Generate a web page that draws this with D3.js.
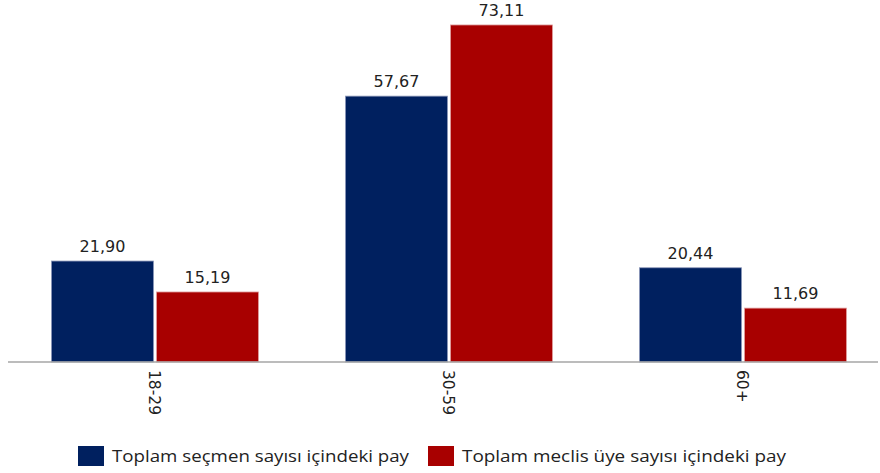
<!DOCTYPE html>
<html><head><meta charset="utf-8">
<script src="https://cdn.jsdelivr.net/npm/d3@7"></script>
<style>body{margin:0;background:#fff}</style>
</head><body>
<svg id="c" width="880" height="473"></svg>
<script>
const categories = ["18-29", "30-59", "60+"];
const seriesNames = ["Toplam seçmen sayısı içindeki pay", "Toplam meclis üye sayısı içindeki pay"];
const voters = [21.90, 57.67, 20.44];
const council = [15.19, 73.11, 11.69];
const colors = ["#00205F", "#A80000"];
const fmt = v => v.toFixed(2).replace(".", ",");

const svg = d3.select("#c");
const baseY = 362;
const x = d3.scaleBand().domain(categories).range([8, 890]).paddingInner(0).paddingOuter(0);
const x1 = d3.scaleBand().domain([0, 1]).range([0, x.bandwidth()]).paddingInner(0.0286).paddingOuter(0.414);
const y = d3.scaleLinear().domain([0, 80]).range([baseY, baseY - 4.61 * 80]);

const data = categories.map((c, i) => ({c, vals: [voters[i], council[i]]}));
const g = svg.append("g");
data.forEach(d => {
  d.vals.forEach((v, s) => {
    g.append("rect")
      .attr("x", x(d.c) + x1(s))
      .attr("y", y(v))
      .attr("width", x1.bandwidth())
      .attr("height", y(0) - y(v))
      .attr("fill", colors[s])
      .attr("stroke", s === 0 ? "#8a96b8" : "#e0a0a0")
      .attr("stroke-width", 0.8);
    g.append("text")
      .attr("x", x(d.c) + x1(s) + x1.bandwidth() / 2)
      .attr("y", y(v) - 9)
      .attr("text-anchor", "middle")
      .attr("font-family", "DejaVu Sans, Verdana, sans-serif")
      .attr("font-size", 16)
      .attr("fill", "#222")
      .text(fmt(v));
  });
});

svg.append("line").attr("x1", 8).attr("x2", 878).attr("y1", baseY).attr("y2", baseY)
  .attr("stroke", "#a6a6a6").attr("stroke-width", 1.5);

categories.forEach(c => {
  const cx = x(c) + x.bandwidth() / 2;
  svg.append("text")
    .attr("transform", `translate(${cx - 6},370) rotate(90)`)
    .attr("text-anchor", "start")
    .attr("font-family", "DejaVu Sans, Verdana, sans-serif")
    .attr("font-size", 15.5)
    .attr("fill", "#222")
    .text(c);
});

// legend
const legX = [78, 428];
const legTextW = [297, 324];
seriesNames.forEach((n, i) => {
  svg.append("rect").attr("x", legX[i]).attr("y", 446).attr("width", 26).attr("height", 20)
    .attr("fill", colors[i]);
  svg.append("text").attr("x", legX[i] + 34).attr("y", 462)
    .attr("font-family", "Open Sans, Noto Sans, sans-serif")
    .attr("font-size", 15.5)
    .attr("fill", "#222")
    .attr("textLength", legTextW[i]).attr("lengthAdjust", "spacingAndGlyphs")
    .text(n);
});
</script>
</body></html>
